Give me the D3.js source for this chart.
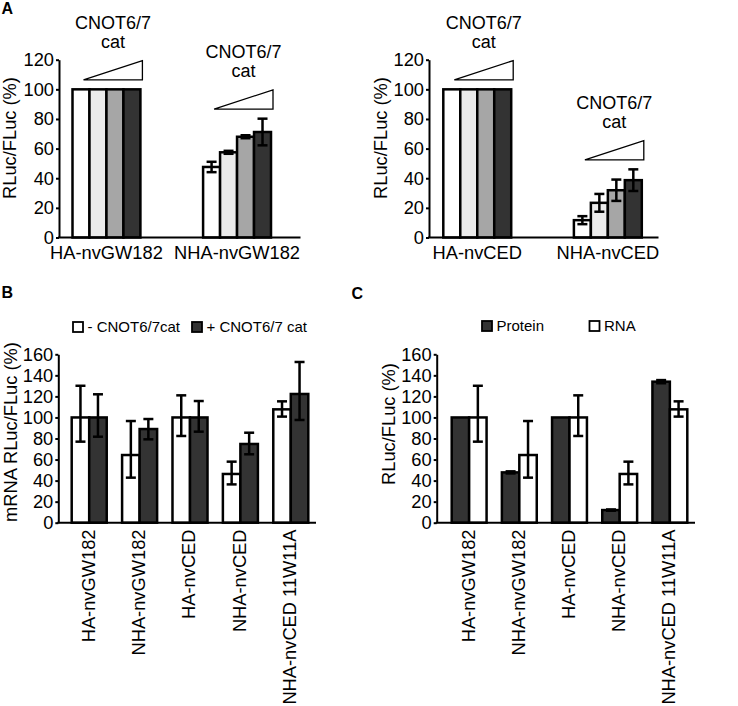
<!DOCTYPE html>
<html>
<head>
<meta charset="utf-8">
<script src="https://cdn.jsdelivr.net/npm/d3@7"></script>
<style>
  html, body { margin: 0; padding: 0; background: #fff; }
  svg { display: block; font-family: "Liberation Sans", Arial, Helvetica, sans-serif; }
</style>
</head>
<body>
<svg id="chart" width="738" height="706"></svg>
<script>
// ---------- DATA ----------
const aTicks = [0, 20, 40, 60, 80, 100, 120];
const bcTicks = [0, 20, 40, 60, 80, 100, 120, 140, 160];

const aLeftCategories = ["HA-nvGW182", "NHA-nvGW182"];
const aLeftValues = [[100, 100, 100, 100], [47.6, 57.5, 68.0, 71.2]];
const aLeftErr = [[0, 0, 0, 0], [3.5, 1.0, 1.0, 9.0]];

const aRightCategories = ["HA-nvCED", "NHA-nvCED"];
const aRightValues = [[100, 100, 100, 100], [11.7, 23.4, 31.9, 38.7]];
const aRightErr = [[0, 0, 0, 0], [2.7, 6.0, 7.2, 7.3]];

const aDoseColors = ["#ffffff", "#ebebeb", "#a6a6a6", "#333333"];
const doseLabel = ["CNOT6/7", "cat"];

const bcCategories = ["HA-nvGW182", "NHA-nvGW182", "HA-nvCED", "NHA-nvCED", "NHA-nvCED 11W11A"];

const bMinusValues = [100, 64.3, 100, 46.3, 107.7];
const bMinusErrHigh = [130.1, 96.6, 121.0, 58.0, 115.3];
const bMinusErrLow = [77.0, 42.8, 82.4, 36.4, 100.8];
const bPlusValues = [100, 89.0, 100, 74.8, 122.3];
const bPlusErrHigh = [122.0, 98.5, 115.6, 85.5, 152.7];
const bPlusErrLow = [81.7, 79.2, 86.5, 65.0, 97.6];

const cProteinValues = [100, 47.8, 100, 12.0, 134.0];
const cProteinErrHigh = [100, 48.8, 100, 12.6, 135.5];
const cProteinErrLow = [100, 46.8, 100, 11.4, 132.5];
const cRnaValues = bMinusValues;
const cRnaErrHigh = bMinusErrHigh;
const cRnaErrLow = bMinusErrLow;

const bLegend = ["- CNOT6/7cat", "+ CNOT6/7 cat"];
const cLegend = ["Protein", "RNA"];
const panelLabels = ["A", "B", "C"];

// ---------- DRAWING ----------
const svg = d3.select("#chart");
const FFAM = "Liberation Sans, Arial, Helvetica, sans-serif";
const FONT = 18.3;
const DOSEFONT = 18;
const DARK = "#333333";

function yAxis(g, y, ticks) {
  const ax = g.append("g")
    .call(d3.axisLeft(y).tickValues(ticks).tickSize(3).tickSizeOuter(0).tickPadding(2).tickFormat(d3.format("d")));
  ax.attr("font-size", FONT).attr("font-family", FFAM);
  ax.select(".domain").attr("stroke", "#000").attr("stroke-width", 2);
  ax.selectAll(".tick line").attr("stroke", "#000").attr("stroke-width", 2);
  ax.selectAll(".tick text").style("font-size", FONT + "px").attr("fill", "#000");
  return ax;
}

function errBar(g, x, yTop, yBot, capW) {
  g.append("line").attr("x1", x).attr("x2", x).attr("y1", yTop).attr("y2", yBot)
    .attr("stroke", "#000").attr("stroke-width", 2.5);
  [yTop, yBot].forEach(yy => {
    g.append("line").attr("x1", x - capW / 2).attr("x2", x + capW / 2).attr("y1", yy).attr("y2", yy)
      .attr("stroke", "#000").attr("stroke-width", 2.5);
  });
}

function panelA(ox, cats, values, errs, yTitleX, axisEnd) {
  const g = svg.append("g").attr("transform", `translate(${ox},0)`);
  const y = d3.scaleLinear().domain([0, 120]).range([237.5, 59.7]);
  const x0 = d3.scaleBand().domain(cats).range([72.5 + (ox ? 0.8 : 0), 271 + (ox ? 0.8 : 0)]).paddingInner(0.48).paddingOuter(0);
  const x1 = d3.scaleBand().domain(d3.range(4)).range([0, x0.bandwidth()]).padding(0);

  cats.forEach((c, gi) => {
    const gg = g.append("g").attr("transform", `translate(${x0(c)},0)`);
    values[gi].forEach((v, i) => {
      gg.append("rect")
        .attr("x", x1(i)).attr("width", x1.bandwidth())
        .attr("y", y(v)).attr("height", y(0) - y(v))
        .attr("fill", aDoseColors[i]).attr("stroke", "#000").attr("stroke-width", 2.5);
    });
    values[gi].forEach((v, i) => {
      if (errs[gi][i] > 0) {
        errBar(gg, x1(i) + x1.bandwidth() / 2, y(v + errs[gi][i]), y(v - errs[gi][i]), 10);
      }
    });
    // dose triangle
    const maxTop = d3.max(values[gi].map((v, i) => v + errs[gi][i]));
    const base = y(maxTop) - 9.5;
    const left = 11;
    const right = x0.bandwidth() + 2;
    gg.append("path")
      .attr("d", `M${left},${base} L${right},${base - 19.3} L${right},${base} Z`)
      .attr("fill", "#fff").attr("stroke", "#000").attr("stroke-width", 1.3);
    const cx = (left + right) / 2;
    gg.append("text").attr("x", cx).attr("y", base - 19.3 - 12.5)
      .attr("text-anchor", "middle").attr("font-size", DOSEFONT).text(doseLabel[1]);
    gg.append("text").attr("x", cx).attr("y", base - 19.3 - 12.5 - 19.5)
      .attr("text-anchor", "middle").attr("font-size", DOSEFONT).text(doseLabel[0]);
    g.append("text").attr("x", x0(c) + x0.bandwidth() / 2).attr("y", 258.5)
      .attr("text-anchor", "middle").attr("font-size", FONT).text(c);
  });

  yAxis(g.append("g").attr("transform", "translate(59,0)"), y, aTicks);
  g.append("line").attr("x1", 58).attr("x2", axisEnd).attr("y1", y(0)).attr("y2", y(0))
    .attr("stroke", "#000").attr("stroke-width", 2);
  g.append("text").attr("transform", `translate(${yTitleX},138) rotate(-90)`)
    .attr("text-anchor", "middle").attr("font-size", FONT).text("RLuc/FLuc (%)");
}

panelA(0, aLeftCategories, aLeftValues, aLeftErr, 16, 300.5);
panelA(370, aRightCategories, aRightValues, aRightErr, 17, 288.5);

function panelBC(ox, axisX, rangeStart, rangeEnd, axisEnd, series, yTitle, yTitleX, yTitleY) {
  const g = svg.append("g").attr("transform", `translate(${ox},0)`);
  const y = d3.scaleLinear().domain([0, 160]).range([522.7, 354.3]);
  const x0 = d3.scaleBand().domain(bcCategories).range([rangeStart, rangeEnd]).paddingInner(0.305).paddingOuter(0);
  const x1 = d3.scaleBand().domain(d3.range(series.length)).range([0, x0.bandwidth()]).padding(0);

  bcCategories.forEach((c, ci) => {
    const gg = g.append("g").attr("transform", `translate(${x0(c)},0)`);
    series.forEach((s, si) => {
      const v = s.values[ci];
      gg.append("rect")
        .attr("x", x1(si)).attr("width", x1.bandwidth())
        .attr("y", y(v)).attr("height", y(0) - y(v))
        .attr("fill", s.color).attr("stroke", "#000").attr("stroke-width", 2.5);
    });
    series.forEach((s, si) => {
      const hi = s.hi[ci], lo = s.lo[ci];
      if (hi - lo > 0.01) errBar(gg, x1(si) + x1.bandwidth() / 2, y(hi), y(lo), 10);
    });
    g.append("text")
      .attr("transform", `translate(${x0(c) + x0.bandwidth() / 2 - 1},529.5) rotate(-90)`)
      .attr("text-anchor", "end").attr("dy", "0.35em").attr("font-size", FONT).text(c);
  });

  yAxis(g.append("g").attr("transform", `translate(${axisX},0)`), y, bcTicks);
  g.append("line").attr("x1", axisX - 1).attr("x2", axisEnd).attr("y1", y(0)).attr("y2", y(0))
    .attr("stroke", "#000").attr("stroke-width", 2);
  g.append("text").attr("transform", `translate(${yTitleX},${yTitleY}) rotate(-90)`)
    .attr("text-anchor", "middle").attr("font-size", FONT).text(yTitle);
  return g;
}

panelBC(0, 58.3, 71.7, 308.3, 316, [
  { values: bMinusValues, hi: bMinusErrHigh, lo: bMinusErrLow, color: "#ffffff" },
  { values: bPlusValues, hi: bPlusErrHigh, lo: bPlusErrLow, color: DARK }
], "mRNA RLuc/FLuc (%)", 16.5, 432);

panelBC(370, 66.7, 81.7, 317.3, 325, [
  { values: cProteinValues, hi: cProteinErrHigh, lo: cProteinErrLow, color: DARK },
  { values: cRnaValues, hi: cRnaErrHigh, lo: cRnaErrLow, color: "#ffffff" }
], "RLuc/FLuc (%)", 24.5, 424);

function legendItem(x, y, color, label) {
  svg.append("rect").attr("x", x).attr("y", y).attr("width", 10).attr("height", 10)
    .attr("fill", color).attr("stroke", "#000").attr("stroke-width", 1.8);
  svg.append("text").attr("x", x + 14.5).attr("y", y + 10.3).attr("font-size", 15).text(label);
}
legendItem(73, 322, "#ffffff", bLegend[0]);
legendItem(192, 322, DARK, bLegend[1]);
legendItem(482, 321, DARK, cLegend[0]);
legendItem(589.5, 321, "#ffffff", cLegend[1]);

[[1.5, 14], [1.5, 298.3], [351.5, 299]].forEach((p, i) => {
  svg.append("text").attr("x", p[0]).attr("y", p[1]).attr("font-size", 16)
    .attr("font-weight", "bold").text(panelLabels[i]);
});
</script>
</body>
</html>
